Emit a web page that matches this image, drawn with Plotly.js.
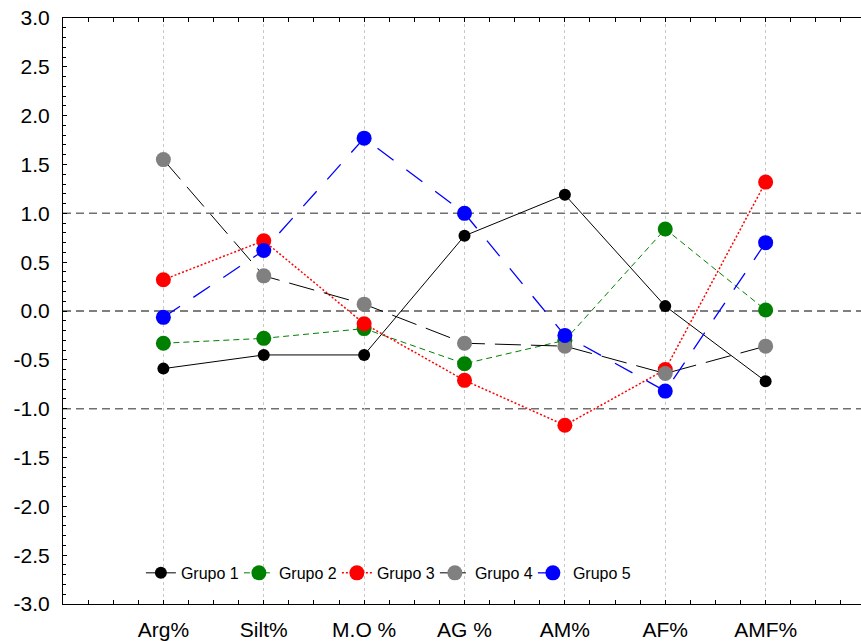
<!DOCTYPE html>
<html>
<head>
<meta charset="utf-8">
<script src="https://cdn.plot.ly/plotly-3.0.1.min.js"></script>
<style>
html,body{margin:0;padding:0;overflow:hidden;background:#fff;}
#chart{width:868px;height:641px;}
</style>
</head>
<body>
<div id="chart"></div>
<script>
const categories = ["Arg%", "Silt%", "M.O %", "AG %", "AM%", "AF%", "AMF%"];
const grupo1 = [-0.59, -0.45, -0.45, 0.77, 1.19, 0.05, -0.72];
const grupo2 = [-0.33, -0.28, -0.18, -0.54, -0.30, 0.84, 0.01];
const grupo3 = [0.32, 0.72, -0.13, -0.71, -1.17, -0.60, 1.32];
const grupo4 = [1.55, 0.36, 0.07, -0.33, -0.36, -0.64, -0.36];
const grupo5 = [-0.065, 0.62, 1.77, 1.00, -0.25, -0.82, 0.70];
const seriesNames = ["Grupo 1", "Grupo 2", "Grupo 3", "Grupo 4", "Grupo 5"];
const yTickVals = [3.0, 2.5, 2.0, 1.5, 1.0, 0.5, 0.0, -0.5, -1.0, -1.5, -2.0, -2.5, -3.0];
const yTickText = ["3.0", "2.5", "2.0", "1.5", "1.0", "0.5", "0.0", "-0.5", "-1.0", "-1.5", "-2.0", "-2.5", "-3.0"];
const refLevels = [1, 0, -1];

const xIdx = categories.map((c, i) => i);

const styles = [
  {line: {color: "#000000", width: 1, dash: "solid"}, marker: {color: "#000000", size: 12}},
  {line: {color: "#008000", width: 1, dash: "6px,4px"}, marker: {color: "#008000", size: 15}},
  {line: {color: "#ff0000", width: 1.5, dash: "2px,2px"}, marker: {color: "#ff0000", size: 15}},
  {line: {color: "#000000", width: 1, dash: "26px,10px"}, marker: {color: "#808080", size: 15}},
  {line: {color: "#0000ff", width: 1.3, dash: "20px,16px"}, marker: {color: "#0000ff", size: 15}}
];
const allSeries = [grupo1, grupo2, grupo3, grupo4, grupo5];

const traces = allSeries.map((vals, k) => ({
  type: "scatter",
  mode: "lines+markers",
  x: xIdx,
  y: vals,
  name: seriesNames[k],
  line: styles[k].line,
  marker: Object.assign({symbol: "circle", line: {width: 0}}, styles[k].marker),
  hoverinfo: "x+y+name"
}));

const shapes = refLevels.map(v => ({
  type: "line", xref: "paper", x0: 0, x1: 1, yref: "y", y0: v, y1: v,
  line: {color: v === 0 ? "#000000" : "#707070", width: v === 0 ? 1.2 : 1.5, dash: "8px,5px"},
  layer: "below"
}));

const layout = {
  width: 868,
  height: 641,
  margin: {l: 63, r: 2, t: 18, b: 37},
  paper_bgcolor: "#ffffff",
  plot_bgcolor: "#ffffff",
  font: {family: "Liberation Sans, Arial, sans-serif", color: "#000000"},
  showlegend: true,
  legend: {
    orientation: "h",
    x: 0.097, xanchor: "left",
    y: 0.053, yanchor: "middle",
    bgcolor: "rgba(0,0,0,0)",
    font: {size: 16, family: "Liberation Sans, Arial, sans-serif"},
    entrywidth: 53,
    entrywidthmode: "pixels",
    traceorder: "normal"
  },
  xaxis: {
    type: "linear",
    range: [-1, 7],
    tickvals: xIdx,
    ticktext: categories,
    showgrid: true,
    gridcolor: "#c8c8c8",
    griddash: "dot",
    gridwidth: 1,
    zeroline: false,
    showline: true,
    linecolor: "#000000",
    linewidth: 1,
    mirror: "allticks",
    ticks: "inside",
    ticklen: 4,
    tickcolor: "#000000",
    minor: {dtick: 0.25, tick0: 0, ticks: "inside", ticklen: 4, tickcolor: "#000000", showgrid: false},
    tickfont: {size: 21},
    ticklabelstandoff: 7,
    fixedrange: true
  },
  yaxis: {
    range: [-3, 3],
    tickvals: yTickVals,
    ticktext: yTickText,
    showgrid: false,
    zeroline: false,
    showline: true,
    linecolor: "#000000",
    linewidth: 1,
    mirror: "allticks",
    ticks: "inside",
    ticklen: 4,
    tickcolor: "#000000",
    minor: {dtick: 0.1, tick0: 0, ticks: "inside", ticklen: 3, tickcolor: "#000000", showgrid: false},
    tickfont: {size: 21},
    ticklabelstandoff: 8,
    fixedrange: true
  },
  shapes: shapes
};

Plotly.newPlot("chart", traces, layout, {displayModeBar: false, staticPlot: true});
</script>
</body>
</html>
